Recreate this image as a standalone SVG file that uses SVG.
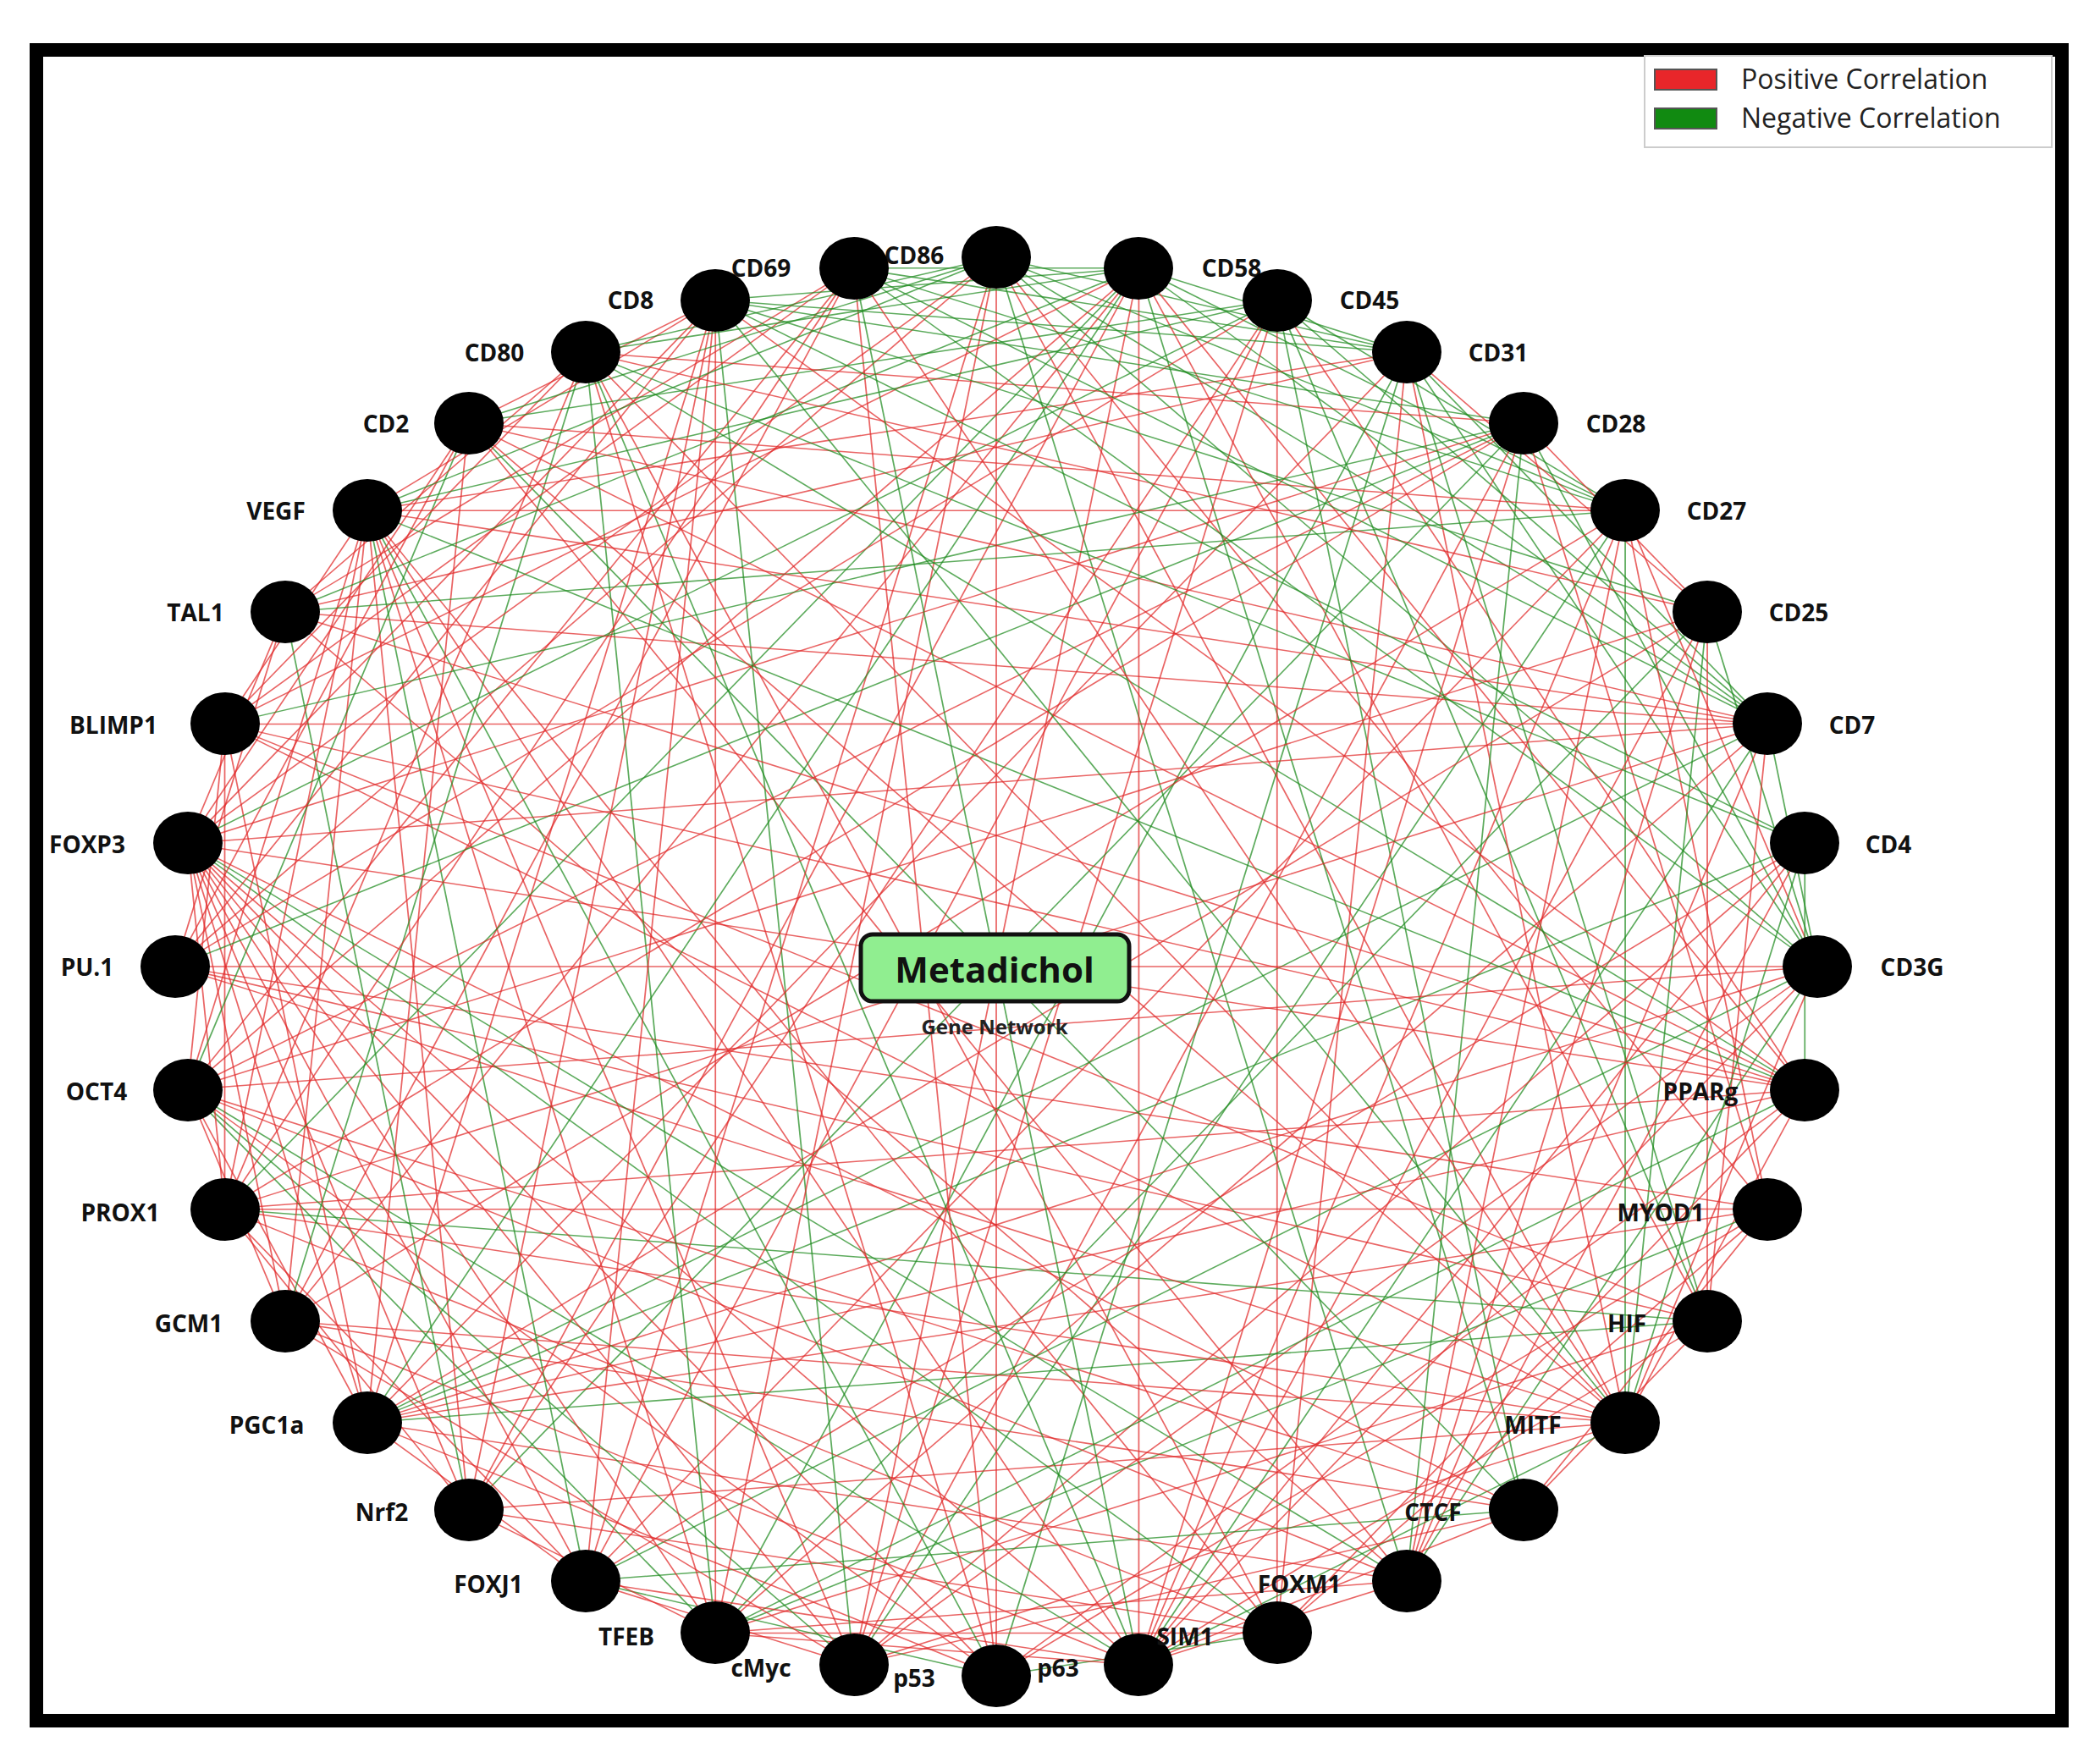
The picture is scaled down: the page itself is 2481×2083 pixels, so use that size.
<svg xmlns="http://www.w3.org/2000/svg" xmlns:xlink="http://www.w3.org/1999/xlink" width="2481" height="2083" viewBox="0 0 2481 2083">
<style>
.e use{stroke:#e02828;stroke-opacity:.72}
.e use.g{stroke:#1f8a1f;stroke-opacity:.72}
.n{fill:#000}
.lb{font-family:"Open Sans","DejaVu Sans",sans-serif;font-weight:bold;font-size:28px;fill:#111;text-anchor:middle;dominant-baseline:central}
.lg{font-family:"Open Sans","DejaVu Sans",sans-serif;font-size:32px;fill:#222}
</style>
<defs>
<line id="c2" stroke-width=".0018" x1="1" y1="0" x2=".9397" y2=".3420"/>
<line id="c3" stroke-width=".0018" x1="1" y1="0" x2=".8660" y2=".5"/>
<line id="c4" stroke-width=".0018" x1="1" y1="0" x2=".7660" y2=".6428"/>
<line id="c5" stroke-width=".0018" x1="1" y1="0" x2=".6428" y2=".7660"/>
<line id="c6" stroke-width=".0018" x1="1" y1="0" x2=".5" y2=".8660"/>
<line id="c7" stroke-width=".0018" x1="1" y1="0" x2=".3420" y2=".9397"/>
<line id="c8" stroke-width=".0018" x1="1" y1="0" x2=".1736" y2=".9848"/>
<line id="c9" stroke-width=".0018" x1="1" y1="0" x2="0" y2="1"/>
<line id="c10" stroke-width=".0018" x1="1" y1="0" x2="-.1736" y2=".9848"/>
<line id="c11" stroke-width=".0018" x1="1" y1="0" x2="-.3420" y2=".9397"/>
<line id="c12" stroke-width=".0018" x1="1" y1="0" x2="-.5" y2=".8660"/>
<line id="c13" stroke-width=".0018" x1="1" y1="0" x2="-.6428" y2=".7660"/>
<line id="c14" stroke-width=".0018" x1="1" y1="0" x2="-.7660" y2=".6428"/>
<line id="c15" stroke-width=".0018" x1="1" y1="0" x2="-.8660" y2=".5"/>
<line id="c16" stroke-width=".0018" x1="1" y1="0" x2="-.9397" y2=".3420"/>
<line id="c17" stroke-width=".0018" x1="1" y1="0" x2="-.9848" y2=".1736"/>
<line id="c18" stroke-width=".0018" x1="1" y1="0" x2="-1" y2="0"/>
</defs>
<rect x="0" y="0" width="2481" height="2083" fill="#fff"/>
<rect x="43" y="59" width="2393" height="1974" fill="#fff" stroke="#000" stroke-width="16"/>
<g id="legend">
<rect x="1943" y="66" width="481" height="108" fill="#fff" stroke="#ccc" stroke-width="2"/>
<rect x="1955" y="82" width="73" height="24" fill="#e8262a" stroke="#555" stroke-width="2"/>
<rect x="1955" y="128" width="73" height="24" fill="#118a11" stroke="#555" stroke-width="2"/>
<text class="lg" x="2057" y="105">Positive Correlation</text>
<text class="lg" x="2057" y="151">Negative Correlation</text>
</g>
<g id="connectors" class="e" stroke-width=".0018" fill="none" transform="translate(1177,1142) scale(970,838)">
<g transform="rotate(-90)"><use href="#c3" class="g"/><use href="#c7" class="g"/><use href="#c11"/><use href="#c15" class="g"/><use href="#c18"/><use href="#c5" class="g"/><use href="#c9" class="g"/><use href="#c13"/></g>
<g transform="rotate(-80)"><use href="#c4" class="g"/><use href="#c9"/><use href="#c13" class="g"/><use href="#c16"/><use href="#c2" class="g"/><use href="#c6" class="g"/><use href="#c11"/></g>
<g transform="rotate(-70)"><use href="#c5" class="g"/><use href="#c8"/><use href="#c12" class="g"/><use href="#c17"/><use href="#c14"/><use href="#c3" class="g"/><use href="#c10" class="g"/></g>
<g transform="rotate(-60)"><use href="#c3"/><use href="#c6" class="g"/><use href="#c10"/><use href="#c13"/><use href="#c17" class="g"/><use href="#c9" class="g"/><use href="#c15" class="g"/><use href="#c4" class="g"/></g>
<g transform="rotate(-50)"><use href="#c2"/><use href="#c7"/><use href="#c11" class="g"/><use href="#c15"/><use href="#c18" class="g"/><use href="#c5" class="g"/><use href="#c13"/></g>
<g transform="rotate(-40)"><use href="#c4"/><use href="#c8" class="g"/><use href="#c12"/><use href="#c16"/><use href="#c10"/><use href="#c14" class="g"/><use href="#c6"/></g>
<g transform="rotate(-30)"><use href="#c3" class="g"/><use href="#c6"/><use href="#c9"/><use href="#c14" class="g"/><use href="#c17"/><use href="#c11"/><use href="#c7" class="g"/></g>
<g transform="rotate(-20)"><use href="#c5"/><use href="#c10" class="g"/><use href="#c13"/><use href="#c16" class="g"/><use href="#c18"/><use href="#c8"/><use href="#c2" class="g"/></g>
<g transform="rotate(-10)"><use href="#c2" class="g"/><use href="#c7"/><use href="#c11"/><use href="#c15" class="g"/><use href="#c9"/><use href="#c5" class="g"/><use href="#c13"/></g>
<g transform="rotate(0)"><use href="#c4"/><use href="#c8"/><use href="#c12" class="g"/><use href="#c17"/><use href="#c14"/><use href="#c6" class="g"/><use href="#c10"/></g>
<g transform="rotate(10)"><use href="#c3"/><use href="#c6"/><use href="#c10" class="g"/><use href="#c13"/><use href="#c18"/><use href="#c15"/><use href="#c8"/></g>
<g transform="rotate(20)"><use href="#c5"/><use href="#c9" class="g"/><use href="#c14"/><use href="#c16"/><use href="#c7"/><use href="#c12"/><use href="#c3"/></g>
<g transform="rotate(30)"><use href="#c2"/><use href="#c8"/><use href="#c11" class="g"/><use href="#c15"/><use href="#c17"/><use href="#c5"/><use href="#c13" class="g"/></g>
<g transform="rotate(40)"><use href="#c4" class="g"/><use href="#c6"/><use href="#c12"/><use href="#c16"/><use href="#c9"/><use href="#c14"/><use href="#c11"/></g>
<g transform="rotate(50)"><use href="#c3"/><use href="#c7" class="g"/><use href="#c10"/><use href="#c14"/><use href="#c18" class="g"/><use href="#c5"/><use href="#c12"/></g>
<g transform="rotate(60)"><use href="#c5"/><use href="#c8"/><use href="#c13" class="g"/><use href="#c17"/><use href="#c11"/><use href="#c2"/><use href="#c15"/></g>
<g transform="rotate(70)"><use href="#c2" class="g"/><use href="#c6"/><use href="#c9"/><use href="#c15"/><use href="#c12" class="g"/><use href="#c4"/><use href="#c17"/></g>
<g transform="rotate(80)"><use href="#c4"/><use href="#c7"/><use href="#c11"/><use href="#c16" class="g"/><use href="#c14"/><use href="#c9" class="g"/><use href="#c3"/></g>
<g transform="rotate(90)"><use href="#c3" class="g"/><use href="#c8"/><use href="#c10"/><use href="#c13" class="g"/><use href="#c17"/><use href="#c5"/><use href="#c15"/></g>
<g transform="rotate(100)"><use href="#c5"/><use href="#c9"/><use href="#c12"/><use href="#c15" class="g"/><use href="#c18"/><use href="#c7" class="g"/><use href="#c2"/></g>
<g transform="rotate(110)"><use href="#c2"/><use href="#c6" class="g"/><use href="#c11"/><use href="#c14"/><use href="#c16"/><use href="#c8"/><use href="#c13" class="g"/></g>
<g transform="rotate(120)"><use href="#c4"/><use href="#c7"/><use href="#c10" class="g"/><use href="#c13"/><use href="#c17"/><use href="#c15"/><use href="#c2"/></g>
<g transform="rotate(130)"><use href="#c3"/><use href="#c8" class="g"/><use href="#c12"/><use href="#c15"/><use href="#c9"/><use href="#c6"/><use href="#c16"/></g>
<g transform="rotate(140)"><use href="#c5"/><use href="#c6"/><use href="#c11"/><use href="#c14" class="g"/><use href="#c16"/><use href="#c3"/><use href="#c9"/></g>
<g transform="rotate(150)"><use href="#c2"/><use href="#c7"/><use href="#c9" class="g"/><use href="#c13"/><use href="#c17"/><use href="#c4"/><use href="#c11"/></g>
<g transform="rotate(160)"><use href="#c4"/><use href="#c8"/><use href="#c10"/><use href="#c12" class="g"/><use href="#c15"/><use href="#c6"/><use href="#c3"/></g>
<g transform="rotate(170)"><use href="#c3"/><use href="#c6" class="g"/><use href="#c11"/><use href="#c14"/><use href="#c16"/><use href="#c9"/><use href="#c5"/></g>
<g transform="rotate(180)"><use href="#c5"/><use href="#c7"/><use href="#c9"/><use href="#c13" class="g"/><use href="#c18"/><use href="#c3"/><use href="#c11"/></g>
<g transform="rotate(190)"><use href="#c2"/><use href="#c8"/><use href="#c10" class="g"/><use href="#c12"/><use href="#c15"/><use href="#c4"/><use href="#c6"/></g>
<g transform="rotate(200)"><use href="#c4"/><use href="#c6"/><use href="#c11" class="g"/><use href="#c14"/><use href="#c17"/><use href="#c8"/><use href="#c2"/></g>
<g transform="rotate(210)"><use href="#c3"/><use href="#c7" class="g"/><use href="#c9"/><use href="#c13"/><use href="#c16"/><use href="#c5"/><use href="#c11" class="g"/></g>
<g transform="rotate(220)"><use href="#c5" class="g"/><use href="#c8"/><use href="#c10"/><use href="#c12"/><use href="#c15" class="g"/><use href="#c3"/><use href="#c7" class="g"/></g>
<g transform="rotate(230)"><use href="#c2"/><use href="#c6" class="g"/><use href="#c11"/><use href="#c14"/><use href="#c17"/><use href="#c4" class="g"/><use href="#c9"/></g>
<g transform="rotate(240)"><use href="#c4" class="g"/><use href="#c7"/><use href="#c9"/><use href="#c13" class="g"/><use href="#c16"/><use href="#c3" class="g"/><use href="#c11" class="g"/></g>
<g transform="rotate(250)"><use href="#c3" class="g"/><use href="#c5" class="g"/><use href="#c8" class="g"/><use href="#c12"/><use href="#c15" class="g"/><use href="#c10" class="g"/><use href="#c6" class="g"/></g>
<g transform="rotate(260)"><use href="#c2" class="g"/><use href="#c6" class="g"/><use href="#c10" class="g"/><use href="#c14"/><use href="#c18" class="g"/><use href="#c4" class="g"/><use href="#c8" class="g"/></g>
</g>
<text class="lb" x="1080" y="301">CD86</text>
<g id="n-CD86"><ellipse class="n" cx="1177" cy="304" rx="41" ry="37"/></g>
<g id="n-CD58"><ellipse class="n" cx="1345" cy="317" rx="41" ry="37"/><text class="lb" x="1455" y="316">CD58</text></g>
<g id="n-CD45"><ellipse class="n" cx="1509" cy="355" rx="41" ry="37"/><text class="lb" x="1618" y="354">CD45</text></g>
<g id="n-CD31"><ellipse class="n" cx="1662" cy="416" rx="41" ry="37"/><text class="lb" x="1770" y="416">CD31</text></g>
<g id="n-CD28"><ellipse class="n" cx="1800" cy="500" rx="41" ry="37"/><text class="lb" x="1909" y="500">CD28</text></g>
<g id="n-CD27"><ellipse class="n" cx="1920" cy="603" rx="41" ry="37"/><text class="lb" x="2028" y="603">CD27</text></g>
<g id="n-CD25"><ellipse class="n" cx="2017" cy="723" rx="41" ry="37"/><text class="lb" x="2125" y="723">CD25</text></g>
<g id="n-CD7"><ellipse class="n" cx="2088" cy="855" rx="41" ry="37"/><text class="lb" x="2188" y="856">CD7</text></g>
<g id="n-CD4"><ellipse class="n" cx="2132" cy="996" rx="41" ry="37"/><text class="lb" x="2231" y="997">CD4</text></g>
<g id="n-CD3G"><ellipse class="n" cx="2147" cy="1142" rx="41" ry="37"/><text class="lb" x="2259" y="1142">CD3G</text></g>
<g id="n-PPARg"><ellipse class="n" cx="2132" cy="1288" rx="41" ry="37"/><text class="lb" x="2009" y="1289">PPARg</text></g>
<g id="n-MYOD1"><ellipse class="n" cx="2088" cy="1429" rx="41" ry="37"/><text class="lb" x="1962" y="1432">MYOD1</text></g>
<g id="n-HIF"><ellipse class="n" cx="2017" cy="1561" rx="41" ry="37"/><text class="lb" x="1922" y="1563">HIF</text></g>
<g id="n-MITF"><ellipse class="n" cx="1920" cy="1681" rx="41" ry="37"/><text class="lb" x="1811" y="1683">MITF</text></g>
<g id="n-CTCF"><ellipse class="n" cx="1800" cy="1784" rx="41" ry="37"/><text class="lb" x="1693" y="1786">CTCF</text></g>
<g id="n-FOXM1"><ellipse class="n" cx="1662" cy="1868" rx="41" ry="37"/><text class="lb" x="1535" y="1871">FOXM1</text></g>
<g id="n-SIM1"><ellipse class="n" cx="1509" cy="1929" rx="41" ry="37"/></g>
<g id="n-p63"><ellipse class="n" cx="1345" cy="1967" rx="41" ry="37"/><text class="lb" x="1400" y="1933">SIM1</text><text class="lb" x="1250" y="1970">p63</text></g>
<g id="n-p53"><ellipse class="n" cx="1177" cy="1980" rx="41" ry="37"/></g>
<g id="n-cMyc"><ellipse class="n" cx="1009" cy="1967" rx="41" ry="37"/><text class="lb" x="1080" y="1982">p53</text><text class="lb" x="899" y="1970">cMyc</text></g>
<g id="n-TFEB"><ellipse class="n" cx="845" cy="1929" rx="41" ry="37"/><text class="lb" x="740" y="1933">TFEB</text></g>
<g id="n-FOXJ1"><ellipse class="n" cx="692" cy="1868" rx="41" ry="37"/><text class="lb" x="577" y="1871">FOXJ1</text></g>
<g id="n-Nrf2"><ellipse class="n" cx="554" cy="1784" rx="41" ry="37"/><text class="lb" x="451" y="1786">Nrf2</text></g>
<g id="n-PGC1a"><ellipse class="n" cx="434" cy="1681" rx="41" ry="37"/><text class="lb" x="315" y="1683">PGC1a</text></g>
<g id="n-GCM1"><ellipse class="n" cx="337" cy="1561" rx="41" ry="37"/><text class="lb" x="223" y="1563">GCM1</text></g>
<g id="n-PROX1"><ellipse class="n" cx="266" cy="1429" rx="41" ry="37"/><text class="lb" x="142" y="1432">PROX1</text></g>
<g id="n-OCT4"><ellipse class="n" cx="222" cy="1288" rx="41" ry="37"/><text class="lb" x="114" y="1289">OCT4</text></g>
<g id="n-PU1"><ellipse class="n" cx="207" cy="1142" rx="41" ry="37"/><text class="lb" x="103" y="1142">PU.1</text></g>
<g id="n-FOXP3"><ellipse class="n" cx="222" cy="996" rx="41" ry="37"/><text class="lb" x="103" y="997">FOXP3</text></g>
<g id="n-BLIMP1"><ellipse class="n" cx="266" cy="855" rx="41" ry="37"/><text class="lb" x="134" y="856">BLIMP1</text></g>
<g id="n-TAL1"><ellipse class="n" cx="337" cy="723" rx="41" ry="37"/><text class="lb" x="231" y="723">TAL1</text></g>
<g id="n-VEGF"><ellipse class="n" cx="434" cy="603" rx="41" ry="37"/><text class="lb" x="326" y="603">VEGF</text></g>
<g id="n-CD2"><ellipse class="n" cx="554" cy="500" rx="41" ry="37"/><text class="lb" x="456" y="500">CD2</text></g>
<g id="n-CD80"><ellipse class="n" cx="692" cy="416" rx="41" ry="37"/><text class="lb" x="584" y="416">CD80</text></g>
<g id="n-CD8"><ellipse class="n" cx="845" cy="355" rx="41" ry="37"/><text class="lb" x="745" y="354">CD8</text></g>
<g id="n-CD69"><ellipse class="n" cx="1009" cy="317" rx="41" ry="37"/><text class="lb" x="899" y="316">CD69</text></g>
<g id="center">
<rect x="1017" y="1104" width="317" height="79" rx="14" fill="#90ee90" stroke="#111" stroke-width="5"/>
<text x="1175" y="1144" font-family="Open Sans, DejaVu Sans, sans-serif" font-weight="bold" font-size="42" text-anchor="middle" dominant-baseline="central" fill="#111">Metadichol</text>
<text x="1175" y="1212" font-family="Open Sans, DejaVu Sans, sans-serif" font-weight="bold" font-size="24" text-anchor="middle" dominant-baseline="central" fill="#222">Gene Network</text>
</g>
</svg>
